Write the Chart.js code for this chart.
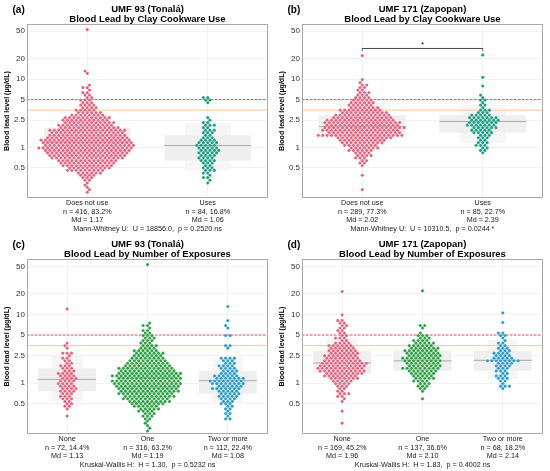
<!DOCTYPE html>
<html><head><meta charset="utf-8">
<script src="https://cdn.jsdelivr.net/npm/chart.js@4.4.1/dist/chart.umd.min.js"></script>
<style>
html,body{margin:0;padding:0;background:#fff;}
#grid{display:grid;grid-template-columns:275px 275px;grid-template-rows:235px 236px;width:550px;height:471px;}
.cell{position:relative;width:275px;height:100%;}
</style></head><body>
<div id="grid">
<div class="cell"><canvas id="ca"></canvas></div>
<div class="cell"><canvas id="cb"></canvas></div>
<div class="cell"><canvas id="cc"></canvas></div>
<div class="cell"><canvas id="cd"></canvas></div>
</div>
<script>
// ---------- DATA ----------
// value levels (µg/dL) used to bin the swarm rows
const levels = [0.20,0.22,0.24,0.26,0.28,0.30,0.33,0.36,0.39,0.42,
                0.46,0.50,0.54,0.59,0.64,0.70,0.76,0.83,0.90,0.98,
                1.07,1.17,1.27,1.38,1.50,1.64,1.78,1.94,2.11,2.30,
                2.50,2.72,2.96,3.22,3.50,3.81,4.15,4.51,4.91,5.34,
                5.81,6.32,6.88,7.48,8.14,8.86];
// counts of children at each level, per group
const aDoesNotUse = [0,1,1,1,1,1,2,3,4,6, 9,10,12,13,14,17,18,19,20,22, 21,21,21,19,18,17,18,14,13,12, 11,11,8,6,5,4,4,3,3,2, 2,2,1,2,1,0];
const aDoesNotUseHigh = [12.1, 13.1, 53];
const aUses = [0,0,0,0,0,1,1,2,1,2, 3,3,2,3,4,4,4,5,5,5, 5,5,4,3,2,3,3,2,3,2, 1,1,0,0,0,0,0,1,2,2, 0,0,0,0,0,0];
const aUsesHigh = [];
const bDoesNotUse = [0,0,1,0,0,0,0,0,1,0, 0,0,1,2,2,3,4,4,6,7, 8,10,11,13,20,17,18,19,17,18, 16,14,13,11,10,7,6,6,5,4, 3,3,2,2,2,1];
const bDoesNotUseHigh = [9.8, 22];
const bUses = [0,0,0,0,0,0,0,0,0,0, 0,0,0,0,0,0,0,1,2,2, 3,3,2,3,3,5,5,6,7,7, 7,7,5,3,3,1,2,1,2,1, 1,0,0,0,0,0];
const bUsesHigh = [7.9, 10.6, 22.5];
const cNone = [0,0,0,0,0,0,1,0,0,1, 2,2,2,3,3,3,4,4,4,4, 4,4,4,4,3,3,3,2,2,2, 1,3,0,1,1,1,0,0,0,0, 0,0,0,0,0,0];
const cNoneHigh = [12];
const cOne = [1,1,1,1,1,2,3,3,4,5, 6,8,10,11,12,13,14,14,15,16, 16,15,16,15,13,13,11,10,9,8, 7,7,6,4,4,3,3,3,3,2, 2,1,2,1,0,0];
const cOneHigh = [53];
const cTwoPlus = [0,0,0,0,0,2,1,2,1,2, 2,3,3,4,5,5,5,7,6,8, 8,7,6,4,4,4,4,3,3,4, 0,0,0,1,2,0,0,0,2,0, 0,1,1,0,0,0];
const cTwoPlusHigh = [8.1, 13];
const dNone = [0,0,0,1,0,0,0,0,1,0, 0,0,1,1,2,3,2,2,3,4, 5,7,8,9,11,11,11,11,9,8, 8,7,7,6,6,4,2,3,2,2, 2,2,2,2,2,0];
const dNoneHigh = [9.8, 21.5];
const dOne = [0,0,0,0,0,0,0,0,0,0, 0,0,0,1,0,0,1,2,3,3, 4,5,5,6,7,9,8,8,9,9, 8,8,8,7,6,5,4,3,3,1, 0,1,2,0,0,0];
const dOneHigh = [22];
const dTwoPlus = [0,0,0,0,0,0,0,0,0,0, 0,0,0,0,0,0,0,1,3,1, 2,3,3,2,3,3,4,4,8,5, 4,4,3,3,2,2,1,1,2,2, 0,0,0,0,0,0];
const dTwoPlusHigh = [7.6, 10.5];

const cookCats = ['Does not use', 'Uses'];
const expoCats = ['None', 'One', 'Two or more'];
const aN = [416, 84],  aPct = [83.2, 16.8], aMd = [1.17, 1.06];
const bN = [289, 85],  bPct = [77.3, 22.7], bMd = [2.02, 2.39];
const cN = [72, 316, 112], cPct = [14.4, 63.2, 22.4], cMd = [1.13, 1.19, 1.08];
const dN = [169, 137, 68], dPct = [45.2, 36.6, 18.2], dMd = [1.96, 2.10, 2.14];
const aStat = 'Mann-Whitney U:  U = 18856.0,  p = 0.2520 ns';
const bStat = 'Mann-Whitney U:  U = 10310.5,  p = 0.0244 *';
const cStat = 'Kruskal-Wallis H:  H = 1.30,  p = 0.5232 ns';
const dStat = 'Kruskal-Wallis H:  H = 1.83,  p = 0.4002 ns';
const yTicks = [0.5, 1, 2.5, 5, 10, 20, 50];
const refLines = [5, 3.5];           // dashed red = 5, orange = 3.5
const bBracket = [1, 2, 28];         // from group, to group, value

// ---------- helpers ----------
const F = '"Liberation Sans", Arial, Helvetica, sans-serif';
const PINK = '#E25E7C', TEAL = '#149B82', GREEN = '#23A03C', BLUE = '#1E9BC8';

function expand(counts, high) {
  const out = [];
  counts.forEach((c, i) => { for (let k = 0; k < c; k++) out.push(levels[i]); });
  return out.concat(high);
}
function quantile(s, f) {
  const h = (s.length - 1) * f, lo = Math.floor(h), hi = Math.ceil(h);
  return s[lo] + (s[hi] - s[lo]) * (h - lo);
}
// hexagonal row layout: each value row centred, adjacent rows interleaved
function rowLayout(vals, yPix, p) {
  const s = vals.slice().sort((u, v) => u - v);
  const rows = [];
  s.forEach(v => { const r = rows[rows.length - 1]; if (r && r.v === v) r.c++; else rows.push({v, c: 1}); });
  const out = [];
  let prev = null, sgn = 1;
  rows.forEach(r => {
    const y = yPix(r.v);
    let phase = ((r.c - 1) % 2) * p / 2, shift = 0;
    if (prev && Math.abs(prev.y - y) < 3.4 && Math.abs(phase - prev.phase) < 1e-6) {
      shift = sgn * p / 2; sgn = -sgn; phase = (phase + p / 2) % p;
    }
    for (let k = 0; k < r.c; k++) out.push({v: r.v, dx: (k - (r.c - 1) / 2) * p + shift});
    prev = {y, phase};
  });
  return out;
}

const panels = [
  {el: 'ca', tag: '(a)', title: ['UMF 93 (Tonalá)', 'Blood Lead by Clay Cookware Use'], cats: cookCats, n: aN, pct: aPct, md: aMd, stat: aStat,
   groups: [[aDoesNotUse, aDoesNotUseHigh], [aUses, aUsesHigh]], colors: [PINK, TEAL]},
  {el: 'cb', tag: '(b)', title: ['UMF 171 (Zapopan)', 'Blood Lead by Clay Cookware Use'], cats: cookCats, n: bN, pct: bPct, md: bMd, stat: bStat,
   groups: [[bDoesNotUse, bDoesNotUseHigh], [bUses, bUsesHigh]], colors: [PINK, TEAL], bracket: bBracket},
  {el: 'cc', tag: '(c)', title: ['UMF 93 (Tonalá)', 'Blood Lead by Number of Exposures'], cats: expoCats, n: cN, pct: cPct, md: cMd, stat: cStat,
   groups: [[cNone, cNoneHigh], [cOne, cOneHigh], [cTwoPlus, cTwoPlusHigh]], colors: [PINK, GREEN, BLUE]},
  {el: 'cd', tag: '(d)', title: ['UMF 171 (Zapopan)', 'Blood Lead by Number of Exposures'], cats: expoCats, n: dN, pct: dPct, md: dMd, stat: dStat,
   groups: [[dNone, dNoneHigh], [dOne, dOneHigh], [dTwoPlus, dTwoPlusHigh]], colors: [PINK, GREEN, BLUE]}
];

function makeDeco(p) {
  return {
    id: 'deco',
    beforeDatasetsDraw(chart) {
      const ctx = chart.ctx, a = chart.chartArea, x = chart.scales.x, y = chart.scales.y;
      ctx.save();
      ctx.beginPath(); ctx.rect(a.left, a.top, a.right - a.left, a.bottom - a.top); ctx.clip();
      p.groups.forEach((g, gi) => {
        const s = expand(g[0], g[1]).sort((u, v) => u - v);
        const cx = gi + 1;
        const box = (hw, lo, hi, col) => {
          const x0 = x.getPixelForValue(cx - hw), x1 = x.getPixelForValue(cx + hw);
          const y0 = y.getPixelForValue(hi), y1 = y.getPixelForValue(lo);
          ctx.fillStyle = col; ctx.fillRect(x0, y0, x1 - x0, y1 - y0);
        };
        box(0.19, quantile(s, 0.1), quantile(s, 0.9), '#f6f6f6');
        box(0.36, quantile(s, 0.25), quantile(s, 0.75), '#efefef');
        const ym = y.getPixelForValue(p.md[gi]);
        ctx.strokeStyle = '#a9a9a9'; ctx.lineWidth = 1;
        ctx.beginPath(); ctx.moveTo(x.getPixelForValue(cx - 0.36), ym); ctx.lineTo(x.getPixelForValue(cx + 0.36), ym); ctx.stroke();
      });
      let yr = y.getPixelForValue(refLines[1]);
      ctx.strokeStyle = '#F9C7A0'; ctx.lineWidth = 1; ctx.setLineDash([]);
      ctx.beginPath(); ctx.moveTo(a.left, yr); ctx.lineTo(a.right, yr); ctx.stroke();
      yr = y.getPixelForValue(refLines[0]);
      ctx.strokeStyle = '#EE4B62'; ctx.lineWidth = 1; ctx.setLineDash([2.5, 1.5]);
      ctx.beginPath(); ctx.moveTo(a.left, yr); ctx.lineTo(a.right, yr); ctx.stroke();
      ctx.restore();
    },
    afterDatasetsDraw(chart) {
      const ctx = chart.ctx, a = chart.chartArea, x = chart.scales.x, y = chart.scales.y;
      ctx.save();
      if (p.bracket) {
        const x0 = x.getPixelForValue(p.bracket[0]), x1 = x.getPixelForValue(p.bracket[1]);
        const yb = y.getPixelForValue(p.bracket[2]);
        ctx.strokeStyle = '#333'; ctx.lineWidth = 0.9;
        ctx.beginPath(); ctx.moveTo(x0, yb + 2.2); ctx.lineTo(x0, yb); ctx.lineTo(x1, yb); ctx.lineTo(x1, yb + 2.2); ctx.stroke();
        ctx.fillStyle = '#000'; ctx.font = '8px ' + F; ctx.textAlign = 'center'; ctx.textBaseline = 'middle';
        ctx.fillText('*', (x0 + x1) / 2, yb - 4);
      }
      ctx.strokeStyle = '#aaaaaa'; ctx.lineWidth = 1;
      ctx.strokeRect(a.left + 0.5, a.top + 0.5, a.right - a.left - 1, a.bottom - a.top - 1);
      ctx.fillStyle = '#000'; ctx.font = 'bold 10px ' + F; ctx.textAlign = 'left'; ctx.textBaseline = 'middle';
      ctx.fillText(p.tag, 12.5, 10.5);
      ctx.restore();
    }
  };
}

panels.forEach(p => {
  const datasets = p.groups.map((g, gi) => ({
    data: expand(g[0], g[1]).map(v => ({x: gi + 1, y: v})),
    backgroundColor: p.colors[gi], borderColor: 'rgba(255,255,255,0.5)', borderWidth: 0.4,
    pointRadius: 1.6, pointHoverRadius: 1.6
  }));
  const chart = new Chart(document.getElementById(p.el), {
    type: 'scatter',
    data: {datasets},
    plugins: [makeDeco(p)],
    options: {
      animation: false, responsive: true, maintainAspectRatio: false, events: [],
      layout: {padding: {left: 0, right: 7, top: 0, bottom: 0}},
      plugins: {
        legend: {display: false}, tooltip: {enabled: false},
        title: {display: true, text: p.title, fullSize: false, color: '#000',
                font: {family: F, size: 9.5, weight: 'bold', lineHeight: 1.0}, padding: {top: 5, bottom: 0}}
      },
      scales: {
        x: {type: 'linear', min: 0.5, max: p.cats.length + 0.5,
            afterBuildTicks: s => { s.ticks = p.cats.map((c, i) => ({value: i + 1})); },
            afterFit: s => { s.height = 37; },
            grid: {color: '#ececec', lineWidth: 0.7, drawTicks: false},
            border: {display: false},
            ticks: {autoSkip: false, maxRotation: 0, padding: 1, color: '#1a1a1a',
                    font: {family: F, size: 7.2, lineHeight: 1.18},
                    callback: v => { const i = Math.round(v) - 1; return [p.cats[i], 'n = ' + p.n[i] + ', ' + p.pct[i].toFixed(1) + '%', 'Md = ' + p.md[i].toFixed(2)]; }},
            title: {display: true, text: p.stat, color: '#1a1a1a', font: {family: F, size: 7.2, lineHeight: 1.18}, padding: {top: 0, bottom: 2}}
        },
        y: {type: 'logarithmic', min: 0.181, max: 63.9,
            afterBuildTicks: s => { s.ticks = yTicks.map(v => ({value: v})); },
            afterFit: s => { s.width = 27; },
            grid: {color: '#ececec', lineWidth: 0.7, drawTicks: false},
            border: {display: false},
            ticks: {autoSkip: false, padding: 2, color: '#333', font: {family: F, size: 8}, callback: v => String(v)},
            title: {display: true, text: 'Blood lead level (µg/dL)', color: '#000',
                    font: {family: F, size: 7.1, weight: 'bold', lineHeight: 1.18}, padding: {top: 3, bottom: 0}}
        }
      }
    }
  });
  // swarm offsets computed in pixel space from the library's scales
  const xs = chart.scales.x, ys = chart.scales.y;
  const pxPerUnit = xs.getPixelForValue(2) - xs.getPixelForValue(1);
  chart.data.datasets.forEach((ds, gi) => {
    const g = p.groups[gi];
    const lay = rowLayout(expand(g[0], g[1]), v => ys.getPixelForValue(v), 4.4);
    ds.data = lay.map(pt => ({x: gi + 1 + pt.dx / pxPerUnit, y: pt.v}));
  });
  chart.update('none');
});
</script>
</body></html>
